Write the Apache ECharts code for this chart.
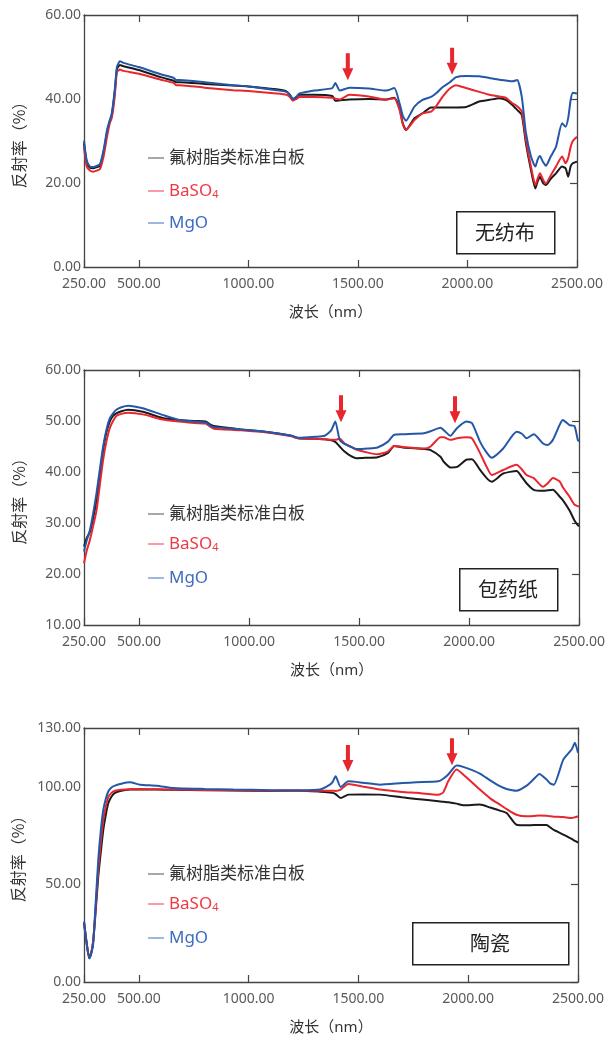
<!DOCTYPE html>
<html><head><meta charset="utf-8">
<script src="https://cdn.jsdelivr.net/npm/echarts@6/dist/echarts.min.js"></script>
<style>html,body{margin:0;padding:0;background:#fff}#c{width:608px;height:1037px}</style>
</head><body><div id="c"></div>
<script>
// ---------- DATA ----------
const seriesNames = ['氟树脂类标准白板', 'BaSO4', 'MgO'];
const xTicks = [250, 500, 1000, 1500, 2000, 2500];
const sampleNames = ['无纺布', '包药纸', '陶瓷'];

// Chart 1: 无纺布
const wl1 = [250,262,277,292,310,323,340,355,368,377,390,400,408,414,430,500,600,660,670,687,800,930,1000,1128,1174,1190,1203,1220,1233,1300,1383,1397,1418,1461,1550,1628,1666,1690,1705,1720,1740,1758,1795,1834,1860,1886,1920,1948,1994,2054,2100,2145,2175,2205,2227,2248,2267,2290,2310,2320,2331,2345,2358,2380,2404,2432,2448,2460,2471,2481,2500];
const ptfe1 = [29.5,25.0,23.6,23.5,23.8,24.0,27.5,32.0,34.8,36.2,41.5,47.0,47.8,48.1,47.8,46.9,45.2,44.3,44.0,44.0,43.6,43.2,43.0,42.3,41.8,41.0,40.0,40.4,41.0,41.0,40.7,39.6,39.7,39.9,40.0,39.9,40.3,37.8,34.2,32.6,34.0,35.4,36.6,38.0,38.0,38.0,38.0,38.0,38.1,39.4,39.8,40.2,39.8,38.6,37.4,36.2,29.4,23.1,18.7,20.3,21.5,20.0,19.5,21.0,22.3,23.9,23.5,21.5,24.0,24.7,25.1];
const baso1 = [28.6,24.0,23.0,22.7,23.0,23.3,26.5,31.0,34.3,35.5,40.5,46.5,46.8,47.0,46.7,46.0,44.6,43.8,43.3,43.3,42.7,42.1,41.9,41.3,41.0,40.5,39.6,40.0,40.5,40.5,40.3,40.1,39.9,41.0,40.6,39.8,40.2,37.4,34.0,32.6,33.8,35.0,36.6,37.0,38.5,40.5,42.5,43.3,42.6,41.7,41.0,40.6,40.3,39.0,38.3,37.0,30.2,23.9,19.5,21.0,22.3,20.8,19.9,21.8,23.9,26.3,24.7,26.0,28.6,30.0,31.0];
const mgo1  = [30.1,25.5,23.9,23.8,24.1,24.5,28.0,32.6,35.0,36.6,42.0,47.6,48.6,49.0,48.6,47.6,45.9,45.0,44.5,44.5,44.0,43.3,43.0,42.1,41.7,41.0,40.0,40.6,41.3,42.0,42.6,43.8,42.0,42.7,42.5,42.0,42.6,39.0,36.0,34.8,36.5,38.2,39.8,40.5,41.5,42.8,44.0,45.2,45.5,45.4,45.0,44.6,44.4,44.2,44.5,40.5,31.9,26.3,23.9,25.5,26.4,25.0,24.1,26.3,28.6,34.2,33.4,35.5,39.8,41.5,41.3];
const yTicks1 = [0, 20, 40, 60];
const arrows1 = [[1454, 47.7], [1930, 49.0]];

// Chart 2: 包药纸
const wl2 = [250,262,277,292,307,322,337,352,367,382,397,420,450,517,607,683,750,803,820,840,953,1073,1193,1224,1300,1344,1374,1392,1412,1434,1460,1487,1540,1584,1630,1660,1700,1795,1825,1870,1885,1915,1945,1987,2013,2050,2080,2103,2155,2216,2240,2261,2294,2336,2358,2381,2411,2426,2456,2479,2494,2500];
const ptfe2 = [25.4,27.0,28.3,31.0,34.5,39.5,44.3,47.8,49.9,51.0,51.5,51.9,52.2,51.8,50.6,50.2,50.0,49.9,49.4,49.0,48.4,47.9,47.1,46.6,46.5,46.4,46.2,45.9,45.0,44.0,43.2,42.7,42.8,42.9,43.7,45.1,44.8,44.5,44.3,43.0,42.0,40.9,41.0,42.4,42.5,40.4,38.8,38.1,39.7,40.2,39.0,37.8,36.5,36.3,36.4,36.5,35.2,34.5,32.5,30.5,29.6,29.4];
const baso2 = [22.1,24.5,26.7,29.5,32.5,37.5,42.4,46.0,48.6,50.0,51.0,51.4,51.6,51.3,50.3,49.9,49.6,49.5,49.0,48.5,48.2,47.8,47.0,46.6,46.5,46.4,46.3,46.3,46.5,45.6,45.0,44.4,43.8,43.5,44.0,45.1,44.9,44.6,45.0,46.8,46.8,46.3,46.6,46.8,46.6,43.7,41.0,39.4,40.4,41.4,40.5,39.4,38.8,37.1,37.8,38.8,38.2,37.0,35.2,33.6,33.3,33.2];
const mgo2  = [24.4,26.5,28.6,32.0,35.9,40.5,45.0,48.3,50.5,51.5,52.2,52.7,53.0,52.5,51.2,50.2,49.9,49.7,49.2,48.8,48.4,47.9,47.1,46.7,46.9,47.1,48.2,49.9,46.3,45.5,45.0,44.5,44.6,44.8,45.9,47.3,47.4,47.6,48.0,48.7,48.2,47.1,48.6,49.9,49.6,45.9,43.8,42.8,44.6,47.9,47.5,46.6,47.4,45.6,45.3,46.3,49.2,50.2,49.2,49.0,46.3,46.0];
const yTicks2 = [10, 20, 30, 40, 50, 60];
const arrows2 = [[1418, 52.4], [1936, 52.2]];

// Chart 3: 陶瓷
const wl3 = [250,262,274,283,292,303,315,327,338,350,361,375,391,420,459,505,581,657,800,930,1100,1233,1325,1370,1383,1396,1419,1454,1520,1598,1700,1765,1864,1886,1909,1947,1977,2053,2100,2144,2175,2220,2266,2300,2324,2357,2375,2390,2433,2471,2486,2500];
const ptfe3 = [30.5,20.0,12.5,15.0,21.0,36.0,54.0,67.0,78.0,86.0,91.6,94.8,96.8,97.9,98.5,98.6,98.5,98.4,98.2,98.0,97.8,97.9,97.4,97.0,96.8,96.2,94.2,95.9,96.0,95.9,94.5,93.7,92.5,92.2,92.0,91.3,90.4,90.8,89.3,87.7,86.5,80.5,80.2,80.3,80.3,80.3,79.0,77.8,75.4,73.2,72.2,71.4];
const baso3 = [30.5,20.0,12.1,14.8,21.0,38.0,57.4,72.0,83.0,90.0,94.7,96.8,97.9,98.4,98.7,98.7,98.6,98.5,98.3,98.1,97.9,97.9,97.9,97.9,97.9,97.8,98.5,101.4,100.0,98.5,97.3,96.8,95.9,97.0,102.7,108.7,106.2,98.5,94.0,90.8,88.5,85.6,84.8,85.0,85.2,85.1,84.8,84.6,84.4,83.9,84.3,84.8];
const mgo3  = [30.9,20.0,12.1,14.5,19.8,40.0,62.6,78.0,88.2,94.0,97.6,99.5,100.5,101.5,102.2,101.0,100.5,99.3,98.8,98.5,98.2,98.1,98.5,101.0,102.5,105.3,99.8,102.7,102.0,101.0,101.8,102.2,102.7,104.0,106.2,110.8,110.1,106.7,103.2,100.2,98.8,97.9,100.5,104.0,106.5,103.6,101.5,101.0,113.8,119.0,122.4,117.3];
const yTicks3 = [0, 50, 100, 130];
const arrows3 = [[1452, 114.4], [1926, 117.9]];

// ---------- STYLE / LAYOUT ----------
const colors = ['#1a1a1a', '#e8262d', '#2457a8'];
const legendLine = ['#8a8a8a', '#f27d84', '#7f9fd6'];
const legendText = ['#333333', '#ef3a44', '#3d6cc0'];
const FONT = "'Noto Sans', 'Noto Sans CJK SC', sans-serif";
const grids = [
  {left: 84, top: 15, width: 493, height: 252},
  {left: 84, top: 370, width: 498, height: 255},
  {left: 84, top: 728, width: 494, height: 254}
];
const charts = [
  {wl: wl1, vals: [ptfe1, baso1, mgo1], yTicks: yTicks1, arrows: arrows1, legendY: [157, 190, 222], box: [456, 211, 98, 42]},
  {wl: wl2, vals: [ptfe2, baso2, mgo2], yTicks: yTicks2, arrows: arrows2, legendY: [513, 543, 577], box: [459, 568, 98, 42]},
  {wl: wl3, vals: [ptfe3, baso3, mgo3], yTicks: yTicks3, arrows: arrows3, legendY: [873, 903, 937], box: [412, 922, 156, 42]}
];
const axisColor = '#444';
const labelColor = '#5a5a5a';
const fmt = v => v.toFixed(2);

const xAxis = [], yAxis = [], series = [], legend = [], graphic = [];
charts.forEach((c, i) => {
  const yMin = c.yTicks[0], yMax = c.yTicks[c.yTicks.length - 1];
  xAxis.push({
    type: 'value', gridIndex: i, min: 250, max: 2500, position: 'bottom',
    name: '波长（nm）', nameLocation: 'middle', nameGap: 38,
    nameTextStyle: {color: '#333', fontSize: 15, fontFamily: FONT},
    axisLine: {show: true, onZero: false, lineStyle: {color: axisColor, width: 1.3}},
    axisTick: {show: true, inside: true, length: 7, customValues: xTicks, lineStyle: {color: axisColor, width: 1.2}},
    axisLabel: {customValues: xTicks, formatter: fmt, color: labelColor, fontSize: 14, margin: 10, fontFamily: FONT},
    splitLine: {show: false}
  });
  xAxis.push({
    type: 'value', gridIndex: i, min: 250, max: 2500, position: 'top',
    axisLine: {show: true, onZero: false, lineStyle: {color: axisColor, width: 1.3}},
    axisTick: {show: true, inside: true, length: 7, customValues: xTicks, lineStyle: {color: axisColor, width: 1.2}},
    axisLabel: {show: false}, splitLine: {show: false}
  });
  yAxis.push({
    type: 'value', gridIndex: i, min: yMin, max: yMax, position: 'left',
    name: '反射率（%）', nameLocation: 'middle', nameGap: 57, nameRotate: 90,
    nameTextStyle: {color: '#333', fontSize: 16, fontFamily: "'Noto Sans CJK SC', sans-serif"},
    axisLine: {show: true, onZero: false, lineStyle: {color: axisColor, width: 1.3}},
    axisTick: {show: false},
    axisLabel: {customValues: c.yTicks, formatter: fmt, color: labelColor, fontSize: 14, margin: 3, fontFamily: FONT},
    splitLine: {show: false}
  });
  yAxis.push({
    type: 'value', gridIndex: i, min: yMin, max: yMax, position: 'right',
    axisLine: {show: true, onZero: false, lineStyle: {color: axisColor, width: 1.3}},
    axisTick: {show: true, inside: true, length: 7, customValues: c.yTicks, lineStyle: {color: axisColor, width: 1.2}},
    axisLabel: {show: false}, splitLine: {show: false}
  });
  seriesNames.forEach((nm, k) => {
    const s = {
      name: nm, type: 'line', xAxisIndex: 2 * i, yAxisIndex: 2 * i,
      data: c.wl.map((w, j) => [w, c.vals[k][j]]),
      showSymbol: false, symbol: 'none', smooth: 0.2,
      lineStyle: {color: colors[k], width: 2}, itemStyle: {color: colors[k]},
      z: 2 + k, silent: true, animation: false
    };
    if (k === 2) {
      s.markPoint = {
        silent: true, animation: false,
        symbol: 'path://M3,0 L7,0 L7,15 L10.5,15 L5,27 L-0.5,15 L3,15 Z',
        symbolSize: [11, 27],
        itemStyle: {color: '#e8262d'},
        label: {show: false},
        data: c.arrows.map(a => ({coord: a}))
      };
    }
    series.push(s);
    const isBa = nm === 'BaSO4';
    legend.push({
      orient: 'vertical', left: 148, top: c.legendY[k] - (isBa ? 10 : 8), padding: 0,
      itemWidth: 16, itemHeight: 1.5, icon: 'rect', selectedMode: false,
      data: [{name: nm, itemStyle: {color: legendLine[k]}, textStyle: {color: legendText[k]}}],
      formatter: n => n === 'BaSO4' ? '{b|BaSO}{s|4}' : n,
      textStyle: {
        fontSize: 17, lineHeight: 18, fontFamily: FONT, color: legendText[k],
        rich: {
          b: {fontSize: 17, color: legendText[1], fontFamily: FONT, lineHeight: 18},
          s: {fontSize: 11, color: legendText[1], fontFamily: FONT, verticalAlign: 'bottom', padding: [9, 0, 0, 0], lineHeight: 18}
        }
      }
    });
  });
  const [bx, by, bw, bh] = c.box;
  graphic.push({
    type: 'rect', left: bx, top: by, z: 10,
    shape: {width: bw, height: bh},
    style: {fill: '#fff', stroke: '#222', lineWidth: 1.5}
  });
  graphic.push({
    type: 'text', x: bx + bw / 2, y: by + bh / 2, z: 11,
    style: {text: sampleNames[i], fill: '#222', font: "20px 'Noto Sans CJK SC'", textAlign: 'center', textVerticalAlign: 'middle'}
  });
});

const chart = echarts.init(document.getElementById('c'), null, {renderer: 'canvas'});
chart.setOption({
  animation: false,
  backgroundColor: '#fff',
  grid: grids,
  xAxis, yAxis, series, legend, graphic
});
</script></body></html>
